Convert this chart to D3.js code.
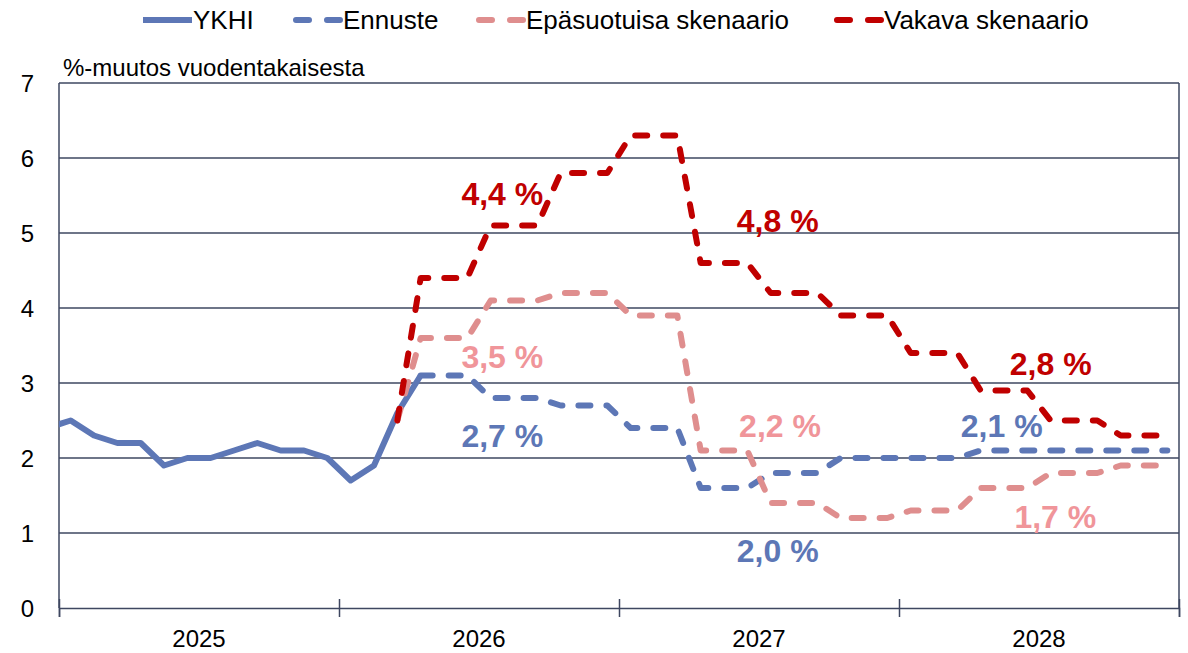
<!doctype html>
<html>

<head>
  <meta charset="utf-8">
  <title>YKHI skenaariot</title>
  <style>
    body { margin: 0; background: #fff; }
    text { font-family: 'Liberation Sans', Arial, sans-serif; }
  </style>
</head>

<body>
  <svg width="1188" height="653"></svg>

  <script src="https://d3js.org/d3.v7.min.js"></script>
  <script>
    // kuukausi-indeksi: 0 = tammikuu 2025
    const years = ['2025', '2026', '2027', '2028'];
    const yTicks = [0, 1, 2, 3, 4, 5, 6, 7];

    // YKHI, joulukuusta 2024 alkaen (indeksi -1)
    const ykhiStart = -1;
    const ykhi = [2.4, 2.5, 2.3, 2.2, 2.2, 1.9, 2.0, 2.0, 2.1, 2.2, 2.1, 2.1, 2.0, 1.7, 1.9, 2.6, 3.1];

    const ennusteStart = 15;
    const ennuste = [3.1, 3.1, 3.1, 2.8, 2.8, 2.8, 2.7, 2.7, 2.7, 2.4, 2.4, 2.4,
      1.6, 1.6, 1.6, 1.8, 1.8, 1.8, 2.0, 2.0, 2.0, 2.0, 2.0, 2.0,
      2.1, 2.1, 2.1, 2.1, 2.1, 2.1, 2.1, 2.1, 2.1];

    const epasuotuisaStart = 14;
    const epasuotuisa = [2.5, 3.6, 3.6, 3.6, 4.1, 4.1, 4.1, 4.2, 4.2, 4.2,
      3.9, 3.9, 3.9, 2.1, 2.1, 2.1, 1.4, 1.4, 1.4, 1.2, 1.2, 1.2,
      1.3, 1.3, 1.3, 1.6, 1.6, 1.6, 1.8, 1.8, 1.8, 1.9, 1.9, 1.9];

    const vakavaStart = 14;
    const vakava = [2.5, 4.4, 4.4, 4.4, 5.1, 5.1, 5.1, 5.8, 5.8, 5.8,
      6.3, 6.3, 6.3, 4.6, 4.6, 4.6, 4.2, 4.2, 4.2, 3.9, 3.9, 3.9,
      3.4, 3.4, 3.4, 2.9, 2.9, 2.9, 2.5, 2.5, 2.5, 2.3, 2.3, 2.3];

    // tekstit: [teksti, sarja, kuukausi, arvo]
    const labels = [
      ['4,4 %', 'vakava', 18.5, 5.37],
      ['4,8 %', 'vakava', 30.3, 5.01],
      ['2,8 %', 'vakava', 42.0, 3.11],
      ['3,5 %', 'epa', 18.5, 3.2],
      ['2,2 %', 'epa', 30.4, 2.28],
      ['1,7 %', 'epa', 42.2, 1.07],
      ['2,7 %', 'ennuste', 18.5, 2.15],
      ['2,0 %', 'ennuste', 30.3, 0.61],
      ['2,1 %', 'ennuste', 39.9, 2.28]
    ];

    const blue = '#5d77b6';
    const pink = '#df8e8e';
    const pinkText = '#f0959a';
    const red = '#c00000';
    const axisCol = '#3e4760';

    const series = [
      { name: 'YKHI', start: ykhiStart, values: ykhi, color: blue, dash: null },
      { name: 'Ennuste', start: ennusteStart, values: ennuste, color: blue, dash: '12 16' },
      { name: 'Epäsuotuisa skenaario', start: epasuotuisaStart, values: epasuotuisa, color: pink, dash: '12 16' },
      { name: 'Vakava skenaario', start: vakavaStart, values: vakava, color: red, dash: '12 16' }
    ];
    const labelColor = { vakava: red, epa: pinkText, ennuste: blue };

    const svg = d3.select('svg');
    const x = d3.scaleLinear().domain([-0.5, 47.5]).range([59, 1179]);
    const y = d3.scaleLinear().domain([0, 7]).range([608, 83]);

    svg.append('clipPath').attr('id', 'plot')
      .append('rect')
      .attr('x', x(-0.5)).attr('y', 0)
      .attr('width', x(47.5) - x(-0.5)).attr('height', 653);

    // vaakaviivat
    svg.append('g')
      .selectAll('line')
      .data(yTicks.slice(1))
      .join('line')
      .attr('x1', x(-0.5)).attr('x2', x(47.5))
      .attr('y1', d => y(d)).attr('y2', d => y(d))
      .attr('stroke', axisCol).attr('stroke-width', 1.5);

    // reunat
    svg.append('line')
      .attr('x1', x(-0.5)).attr('x2', x(-0.5)).attr('y1', y(7)).attr('y2', y(0))
      .attr('stroke', axisCol).attr('stroke-width', 1.5);
    svg.append('line')
      .attr('x1', x(47.5)).attr('x2', x(47.5)).attr('y1', y(7)).attr('y2', y(0))
      .attr('stroke', axisCol).attr('stroke-width', 1.5);

    // y-akselin numerot
    svg.append('g')
      .selectAll('text')
      .data(yTicks)
      .join('text')
      .attr('x', 34).attr('y', d => y(d))
      .attr('dy', '0.36em')
      .attr('text-anchor', 'end')
      .attr('font-size', 24)
      .attr('fill', '#000')
      .text(d => d);

    svg.append('text')
      .attr('x', 63).attr('y', 76)
      .attr('font-size', 24)
      .attr('fill', '#000')
      .text('%-muutos vuodentakaisesta');

    // x-akseli
    const xAxis = svg.append('g')
      .attr('transform', `translate(0, ${y(0)})`)
      .call(d3.axisBottom(x)
        .tickValues([-0.5, 11.5, 23.5, 35.5, 47.5])
        .tickSize(9)
        .tickFormat(''));
    xAxis.select('.domain').attr('stroke', axisCol).attr('stroke-width', 1.5);
    xAxis.selectAll('.tick line').attr('stroke', axisCol).attr('stroke-width', 1.5).attr('y1', -9);

    svg.append('g')
      .selectAll('text')
      .data(years)
      .join('text')
      .attr('x', (d, i) => x(i * 12 + 5.5))
      .attr('y', 647)
      .attr('text-anchor', 'middle')
      .attr('font-size', 24)
      .attr('fill', '#000')
      .text(d => d);

    // viivat
    const line = d3.line()
      .x(d => x(d.i))
      .y(d => y(d.v));

    svg.append('g')
      .attr('clip-path', 'url(#plot)')
      .selectAll('path')
      .data(series)
      .join('path')
      .attr('d', s => line(s.values.map((v, k) => ({ i: s.start + k, v }))))
      .attr('fill', 'none')
      .attr('stroke', s => s.color)
      .attr('stroke-width', 6)
      .attr('stroke-linejoin', 'round')
      .attr('stroke-linecap', s => s.dash ? 'round' : 'butt')
      .attr('stroke-dasharray', s => s.dash);

    // tekstit
    svg.append('g')
      .selectAll('text')
      .data(labels)
      .join('text')
      .attr('x', d => x(d[2]))
      .attr('y', d => y(d[3]))
      .attr('text-anchor', 'middle')
      .attr('font-size', 32)
      .attr('font-weight', 'bold')
      .attr('fill', d => labelColor[d[1]])
      .text(d => d[0]);

    // selite
    const legendX = [143, 293, 476, 834];
    const legend = svg.append('g')
      .selectAll('g')
      .data(series)
      .join('g')
      .attr('transform', (d, i) => `translate(${legendX[i]}, 20)`);
    legend.append('line')
      .attr('x1', d => d.dash ? 3 : 0).attr('x2', d => d.dash ? 47 : 49)
      .attr('stroke', d => d.color)
      .attr('stroke-width', 6)
      .attr('stroke-linecap', d => d.dash ? 'round' : 'butt')
      .attr('stroke-dasharray', d => d.dash ? '13 18' : null);
    legend.append('text')
      .attr('x', 50).attr('y', 0)
      .attr('dy', '0.36em')
      .attr('font-size', 26)
      .attr('fill', '#000')
      .text(d => d.name);
  </script>
</body>

</html>
